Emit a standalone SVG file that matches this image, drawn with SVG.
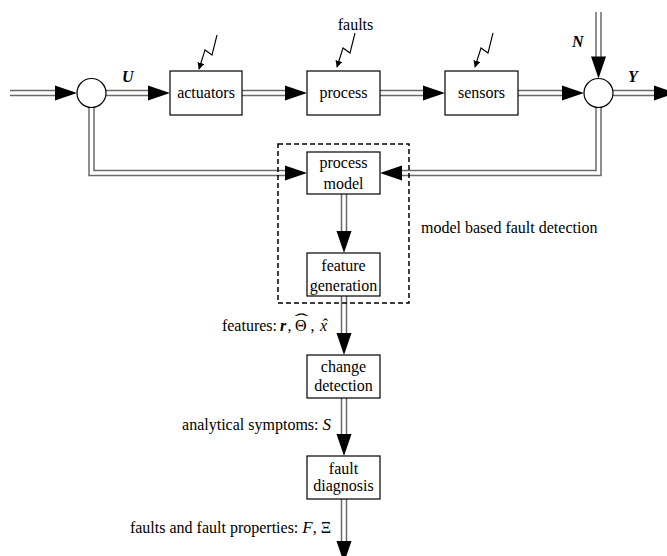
<svg xmlns="http://www.w3.org/2000/svg" width="667" height="556" viewBox="0 0 667 556">
<style>
  .box { fill: #fff; stroke: #000; stroke-width: 1.2; }
  .sum { fill: #fff; stroke: #000; stroke-width: 1.2; }
  .outer { fill: none; stroke: #6a6a6a; stroke-width: 6.5; stroke-linejoin: miter; }
  .inner { fill: none; stroke: #fff; stroke-width: 3.5; stroke-linejoin: miter; }
  .head { fill: #000; }
  .bolt { fill: none; stroke: #000; stroke-width: 1.1; }
  .dash { fill: none; stroke: #000; stroke-width: 1.5; stroke-dasharray: 5 3; }
  text { font-family: "Liberation Serif", "Times New Roman", serif; font-size: 16px; fill: #000; }
  .c { text-anchor: middle; }
  .e { text-anchor: end; }
  .bi { font-weight: bold; font-style: italic; }
  .it { font-style: italic; }
</style>
<defs>
  <path id="ah" d="M0,0 L-22,-7.5 L-22,7.5 Z"/>
  <marker id="sm" viewBox="0 0 10 10" refX="9" refY="5" markerWidth="7" markerHeight="7" orient="auto" markerUnits="userSpaceOnUse">
    <path d="M0,0 L10,5 L0,10 Z" fill="#000"/>
  </marker>
  <path id="bolt" d="M18,0 L13,20 L6,15 L0,34" class="bolt" marker-end="url(#sm)"/>
</defs>

<g id="connectors">
  <g id="shafts">
    <path class="outer" d="M10,93 H56"/>
    <path class="inner" d="M10,93 H56"/>
    <path class="outer" d="M106,93 H149"/>
    <path class="inner" d="M106,93 H149"/>
    <path class="outer" d="M242,93 H287"/>
    <path class="inner" d="M242,93 H287"/>
    <path class="outer" d="M380,93 H424"/>
    <path class="inner" d="M380,93 H424"/>
    <path class="outer" d="M518,93 H563"/>
    <path class="inner" d="M518,93 H563"/>
    <path class="outer" d="M612.5,93 H656"/>
    <path class="inner" d="M612.5,93 H656"/>
    <path class="outer" d="M598.5,12 V58"/>
    <path class="inner" d="M598.5,12 V58"/>
    <path class="outer" d="M91.5,107 V173 H288"/>
    <path class="inner" d="M91.5,107 V173 H288"/>
    <path class="outer" d="M598.5,107 V173 H401"/>
    <path class="inner" d="M598.5,107 V173 H401"/>
    <path class="outer" d="M344,194 V232"/>
    <path class="inner" d="M344,194 V232"/>
    <path class="outer" d="M344,296 V334"/>
    <path class="inner" d="M344,296 V334"/>
    <path class="outer" d="M344,398 V434"/>
    <path class="inner" d="M344,398 V434"/>
    <path class="outer" d="M344,499 V542"/>
    <path class="inner" d="M344,499 V542"/>
  </g>
  <g id="heads" class="head">
    <use href="#ah" transform="translate(77,93)"/>
    <use href="#ah" transform="translate(170,93)"/>
    <use href="#ah" transform="translate(307,93)"/>
    <use href="#ah" transform="translate(445,93)"/>
    <use href="#ah" transform="translate(584,93)"/>
    <use href="#ah" transform="translate(676,93)"/>
    <use href="#ah" transform="translate(598.5,78.5) rotate(90)"/>
    <use href="#ah" transform="translate(307,173)"/>
    <use href="#ah" transform="translate(380,173) rotate(180)"/>
    <use href="#ah" transform="translate(344,253) rotate(90)"/>
    <use href="#ah" transform="translate(344,355) rotate(90)"/>
    <use href="#ah" transform="translate(344,456) rotate(90)"/>
    <use href="#ah" transform="translate(344,563) rotate(90)"/>
  </g>
  <g id="bolts">
    <use href="#bolt" transform="translate(199,35)"/>
    <use href="#bolt" transform="translate(337,33)"/>
    <use href="#bolt" transform="translate(475,33)"/>
  </g>
</g>

<g id="sum-in">
  <circle class="sum" cx="91.5" cy="93" r="14.5"/>
</g>
<g id="sum-out">
  <circle class="sum" cx="598.5" cy="93" r="14.5"/>
</g>

<g id="actuators">
  <rect class="box" x="170" y="71" width="72" height="44"/>
  <text class="c" x="206" y="98">actuators</text>
</g>
<g id="process">
  <rect class="box" x="307" y="71" width="73" height="44"/>
  <text class="c" x="343.5" y="98">process</text>
</g>
<g id="sensors">
  <rect class="box" x="445" y="71" width="73" height="44"/>
  <text class="c" x="481.5" y="98">sensors</text>
</g>
<g id="model-based-fault-detection">
  <rect class="dash" x="278" y="144" width="131" height="159"/>
  <text x="421" y="233">model based fault detection</text>
</g>
<g id="process-model">
  <rect class="box" x="307" y="152" width="73" height="42"/>
  <text class="c" x="343.5" y="168">process</text>
  <text class="c" x="343.5" y="189">model</text>
</g>
<g id="feature-generation">
  <rect class="box" x="307" y="253" width="73" height="43"/>
  <text class="c" x="343.5" y="271">feature</text>
  <text class="c" x="343.5" y="291">generation</text>
</g>
<g id="change-detection">
  <rect class="box" x="307" y="355" width="73" height="43"/>
  <text class="c" x="343.5" y="372">change</text>
  <text class="c" x="343.5" y="391">detection</text>
</g>
<g id="fault-diagnosis">
  <rect class="box" x="307" y="456" width="73" height="43"/>
  <text class="c" x="343.5" y="474">fault</text>
  <text class="c" x="343.5" y="491">diagnosis</text>
</g>

<g id="labels">
  <text class="c" x="355.5" y="30">faults</text>
  <text class="bi" x="122" y="82">U</text>
  <text class="bi" x="572" y="47">N</text>
  <text class="bi" x="628" y="82">Y</text>
  <text class="e" x="277" y="331">features:</text>
  <text class="bi" x="280" y="331" font-size="17">r</text>
  <text x="287.5" y="331">,</text>
  <text x="295" y="331" font-size="18">Θ</text>
  <text class="c" x="0" y="0" transform="translate(301.5,324.5) scale(2.6,1)">ˆ</text>
  <text x="310.5" y="331">,</text>
  <text class="it" x="320" y="331" font-size="17">x</text>
  <text class="c" x="325.5" y="329.5">ˆ</text>
  <text class="e" x="331" y="430">analytical symptoms: <tspan class="it" font-size="17">S</tspan></text>
  <text class="e" x="331" y="533">faults and fault properties: <tspan class="it" font-size="17">F</tspan>, Ξ</text>
</g>
</svg>
